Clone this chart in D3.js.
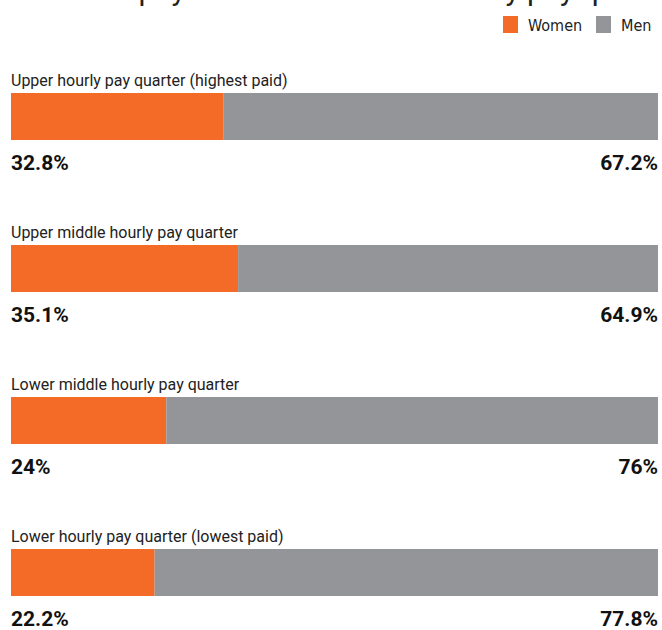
<!DOCTYPE html>
<html>
<head>
<meta charset="utf-8">
<script src="https://cdn.jsdelivr.net/npm/d3@7"></script>
<style>
  body { margin: 0; background: #fff; }
  svg { display: block; }
  .row-label { font-family: Roboto, sans-serif; font-size: 16px; fill: #222; }
  .pct { font-family: Roboto, sans-serif; font-size: 21px; font-weight: bold; fill: #111; }
  .legend-text { font-family: "DejaVu Sans Condensed", "DejaVu Sans", sans-serif; font-size: 16px; fill: #222; }
  .title { font-family: Roboto, sans-serif; font-size: 30px; fill: #222; }
</style>
</head>
<body>
<div id="chart"></div>
<script>
const quarters = [
  'Upper hourly pay quarter (highest paid)',
  'Upper middle hourly pay quarter',
  'Lower middle hourly pay quarter',
  'Lower hourly pay quarter (lowest paid)'
];
const women = [32.8, 35.1, 24, 22.2];
const men = [67.2, 64.9, 76, 77.8];
const seriesNames = ['Women', 'Men'];
const titleText = "Women's pay and men's in each hourly pay quarter";

const width = 662, height = 630;
const margin = {left: 11, right: 4, top: 93};
const rowStep = 152, barH = 47;

const colorScale = d3.scaleOrdinal()
  .domain(seriesNames)
  .range(['#f46b27', '#939598']);

const xScale = d3.scaleLinear()
  .domain([0, 100])
  .range([margin.left, width - margin.right]);

const yScale = d3.scaleBand()
  .domain(quarters)
  .range([margin.top, margin.top + rowStep * quarters.length])
  .paddingInner(0)
  .paddingOuter(0);

const svg = d3.select('#chart').append('svg')
  .attr('width', width)
  .attr('height', height);

// title, cut off by the top of the frame so only descenders show
svg.append('text')
  .attr('class', 'title')
  .attr('x', 11)
  .attr('y', 0)
  .text(titleText);

// legend
const legend = svg.append('g').attr('transform', 'translate(503,16)');
const legendX = [0, 93];
seriesNames.forEach((name, i) => {
  const lg = legend.append('g').attr('transform', `translate(${legendX[i]},0)`);
  lg.append('rect')
    .attr('width', 15).attr('height', 17)
    .attr('fill', colorScale(name));
  lg.append('text')
    .attr('class', 'legend-text')
    .attr('x', 25).attr('y', 15)
    .text(name);
});

const rows = quarters.map((q, i) => ({q, women: women[i], men: men[i]}));

const row = svg.selectAll('g.row')
  .data(rows)
  .enter().append('g')
  .attr('class', 'row')
  .attr('transform', d => `translate(0,${yScale(d.q)})`);

row.append('text')
  .attr('class', 'row-label')
  .attr('x', margin.left)
  .attr('y', -7)
  .text(d => d.q);

row.append('rect')
  .attr('x', xScale(0))
  .attr('y', 0)
  .attr('width', d => xScale(d.women) - xScale(0))
  .attr('height', barH)
  .attr('fill', colorScale('Women'));

row.append('rect')
  .attr('x', d => xScale(d.women))
  .attr('y', 0)
  .attr('width', d => xScale(100) - xScale(d.women))
  .attr('height', barH)
  .attr('fill', colorScale('Men'));

row.append('text')
  .attr('class', 'pct')
  .attr('x', margin.left)
  .attr('y', 77)
  .text(d => d.women + '%');

row.append('text')
  .attr('class', 'pct')
  .attr('x', xScale(100))
  .attr('y', 77)
  .attr('text-anchor', 'end')
  .text(d => d.men + '%');
</script>
</body>
</html>
